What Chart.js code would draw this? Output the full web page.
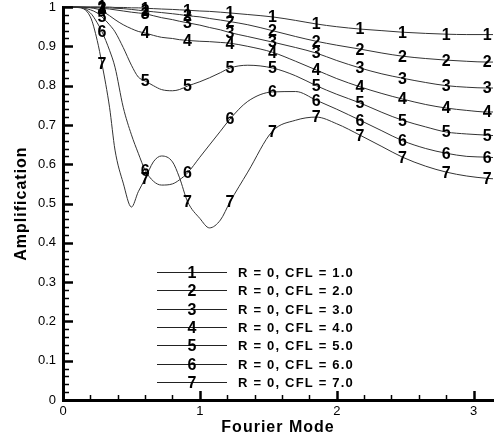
<!DOCTYPE html>
<html>
<head>
<meta charset="utf-8">
<script src="https://cdn.jsdelivr.net/npm/chart.js@4"></script>
<style>
  html, body { margin: 0; padding: 0; background: #fff; }
</style>
</head>
<body>
<canvas id="ampChart" width="494" height="440"></canvas>
<script>
// Fourier mode (x) grid shared by all curves
const modes = [0, 0.1, 0.2, 0.25, 0.285, 0.34, 0.38, 0.44, 0.5, 0.55, 0.6, 0.66, 0.72, 0.8, 0.85, 0.91,
  1.0, 1.07, 1.15, 1.22, 1.35, 1.53, 1.7, 1.85, 2.0, 2.17, 2.33, 2.48, 2.65, 2.8, 2.95, 3.1, 3.1416];

// amplification, one array per CFL number
const cfl1 = [1, 1, 1, 1, 1, 1, 0.999, 0.999, 0.998, 0.998, 0.997, 0.996, 0.995, 0.994, 0.993, 0.992,
  0.99, 0.989, 0.987, 0.985, 0.981, 0.975, 0.966, 0.957, 0.95, 0.944, 0.94, 0.936, 0.933, 0.931, 0.93, 0.93, 0.93];
const cfl2 = [1, 1, 1, 1, 0.999, 0.998, 0.997, 0.996, 0.994, 0.992, 0.99, 0.988, 0.986, 0.983, 0.981, 0.978,
  0.975, 0.971, 0.967, 0.963, 0.955, 0.94, 0.925, 0.913, 0.903, 0.893, 0.883, 0.875, 0.869, 0.865, 0.862, 0.86, 0.86];
const cfl3 = [1, 1, 0.999, 0.998, 0.997, 0.995, 0.993, 0.99, 0.987, 0.985, 0.983, 0.978, 0.973, 0.968, 0.964, 0.96,
  0.954, 0.948, 0.942, 0.935, 0.925, 0.911, 0.897, 0.883, 0.864, 0.845, 0.83, 0.819, 0.808, 0.8, 0.796, 0.794, 0.794];
const cfl4 = [1, 1, 0.998, 0.995, 0.99, 0.978, 0.968, 0.955, 0.945, 0.938, 0.934, 0.928, 0.923, 0.92, 0.917, 0.915,
  0.913, 0.912, 0.91, 0.908, 0.9, 0.885, 0.862, 0.84, 0.818, 0.797, 0.78, 0.766, 0.752, 0.743, 0.737, 0.733, 0.733];
const cfl5 = [1, 1, 0.993, 0.985, 0.975, 0.955, 0.937, 0.897, 0.852, 0.822, 0.812, 0.8, 0.79, 0.787, 0.79, 0.799,
  0.81, 0.82, 0.833, 0.845, 0.852, 0.845, 0.825, 0.8, 0.778, 0.756, 0.732, 0.712, 0.695, 0.682, 0.677, 0.674, 0.673];
const cfl6 = [1, 1, 0.985, 0.96, 0.937, 0.89, 0.847, 0.745, 0.675, 0.628, 0.585, 0.557, 0.547, 0.55, 0.56, 0.578,
  0.618, 0.649, 0.684, 0.715, 0.76, 0.784, 0.785, 0.763, 0.74, 0.712, 0.685, 0.66, 0.64, 0.628, 0.62, 0.618, 0.617];
const cfl7 = [1, 0.999, 0.975, 0.915, 0.855, 0.745, 0.636, 0.552, 0.491, 0.53, 0.563, 0.606, 0.621, 0.606, 0.567, 0.505,
  0.462, 0.438, 0.458, 0.504, 0.58, 0.684, 0.712, 0.72, 0.703, 0.674, 0.645, 0.618, 0.595, 0.58, 0.57, 0.564, 0.563];

const seriesNames = ['R = 0, CFL = 1.0', 'R = 0, CFL = 2.0', 'R = 0, CFL = 3.0', 'R = 0, CFL = 4.0',
  'R = 0, CFL = 5.0', 'R = 0, CFL = 6.0', 'R = 0, CFL = 7.0'];
const curveTags = ['1', '2', '3', '4', '5', '6', '7'];
const labelModes = [0.285, 0.6, 0.91, 1.22, 1.53, 1.85, 2.17, 2.48, 2.8, 3.1];
const xTicks = [0, 1, 2, 3];

const FONT = '"Liberation Sans", Arial, Helvetica, sans-serif';
const allSeries = [cfl1, cfl2, cfl3, cfl4, cfl5, cfl6, cfl7];

// tick marks, numbers on the curves, legend and axis titles
const decorPlugin = {
  id: 'decor',
  afterDraw(chart) {
    const ctx = chart.ctx;
    const xs = chart.scales.x, ys = chart.scales.y;
    const area = chart.chartArea;
    ctx.save();
    ctx.strokeStyle = '#000';
    ctx.fillStyle = '#000';

    // y ticks, pointing inward
    for (let k = 0; k <= 50; k++) {
      const py = Math.round(ys.getPixelForValue(k / 50)) + 0.5;
      const major = k % 5 === 0;
      ctx.lineWidth = major ? 2.5 : 1.5;
      ctx.beginPath();
      ctx.moveTo(area.left, py);
      ctx.lineTo(area.left + (major ? 10 : 6), py);
      ctx.stroke();
    }
    // x ticks
    for (let k = 0; k <= 15; k++) {
      const px = Math.round(xs.getPixelForValue(k / 5)) + 0.5;
      const major = k % 5 === 0;
      ctx.lineWidth = major ? 2.5 : 1.5;
      ctx.beginPath();
      ctx.moveTo(px, area.bottom);
      ctx.lineTo(px, area.bottom - (major ? 9 : 5));
      ctx.stroke();
    }

    // numbers sitting on the curves
    ctx.font = 'bold 16px ' + FONT;
    ctx.textAlign = 'center';
    ctx.textBaseline = 'middle';
    chart.data.datasets.forEach((ds, i) => {
      const meta = chart.getDatasetMeta(i);
      labelModes.forEach(m => {
        const pt = meta.data[modes.indexOf(m)];
        if (pt) ctx.fillText(curveTags[i], pt.x, pt.y + 1);
      });
    });

    // legend
    const lx0 = area.left + 94, lx1 = area.left + 164, tx = area.left + 175;
    chart.data.datasets.forEach((ds, i) => {
      const y = Math.round(area.bottom - 128 + i * 18.3) + 0.5;
      ctx.strokeStyle = '#222';
      ctx.lineWidth = 1;
      ctx.beginPath();
      ctx.moveTo(lx0, y);
      ctx.lineTo(lx1, y);
      ctx.stroke();
      ctx.font = 'bold 16px ' + FONT;
      ctx.textAlign = 'center';
      ctx.fillText(curveTags[i], (lx0 + lx1) / 2, y + 1);
      ctx.font = 'bold 13px ' + FONT;
      ctx.textAlign = 'left';
      ctx.letterSpacing = '1.2px';
      ctx.fillText(ds.label, tx, y + 1);
      ctx.letterSpacing = '0px';
    });

    // axis titles
    ctx.font = 'bold 16px ' + FONT;
    ctx.textAlign = 'center';
    ctx.letterSpacing = '1px';
    ctx.fillText('Fourier Mode', (area.left + area.right) / 2, 428);
    ctx.translate(22, (area.top + area.bottom) / 2);
    ctx.rotate(-Math.PI / 2);
    ctx.fillText('Amplification', 0, 0);
    ctx.restore();
  }
};

new Chart(document.getElementById('ampChart'), {
  type: 'line',
  data: {
    labels: modes,
    datasets: allSeries.map((vals, i) => ({
      label: seriesNames[i],
      data: vals.map((v, j) => ({ x: modes[j], y: v })),
      borderColor: '#333',
      borderWidth: 1,
      pointRadius: 0,
      fill: false,
      cubicInterpolationMode: 'monotone',
      clip: false
    }))
  },
  options: {
    responsive: false,
    animation: false,
    devicePixelRatio: 1,
    layout: { padding: { top: 0, right: 1, left: 0, bottom: 0 } },
    plugins: { legend: { display: false }, tooltip: { enabled: false } },
    scales: {
      x: {
        type: 'linear',
        min: 0,
        max: Math.PI,
        afterBuildTicks: scale => { scale.ticks = xTicks.map(v => ({ value: v })); },
        afterFit: scale => { scale.height = 40; },
        grid: { drawOnChartArea: false, drawTicks: false },
        border: { display: true, width: 3, color: '#000' },
        ticks: { padding: 5, color: '#000', maxRotation: 0, font: { family: FONT, size: 13, lineHeight: 1 } }
      },
      y: {
        min: 0,
        max: 1,
        afterFit: scale => { scale.width = 63; },
        grid: { drawOnChartArea: false, drawTicks: false },
        border: { display: true, width: 3, color: '#000' },
        ticks: {
          stepSize: 0.1,
          padding: 7,
          color: '#000',
          font: { family: FONT, size: 13, lineHeight: 0.01 },
          callback: v => String(Math.round(v * 10) / 10)
        }
      }
    }
  },
  plugins: [decorPlugin]
});
</script>
</body>
</html>
